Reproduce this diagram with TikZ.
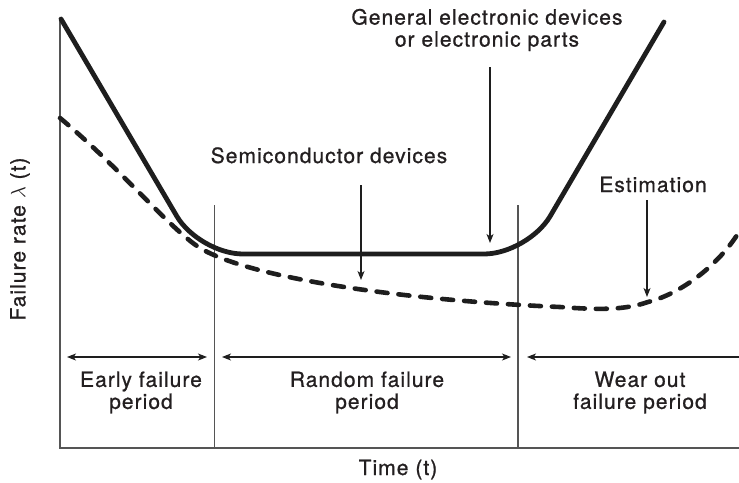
\documentclass[tikz,border=0pt]{standalone}
\usepackage{fontspec}
\usetikzlibrary{arrows.meta}
\newfontfamily\lblfont[LetterSpace=5,FakeBold=0.9]{TeX Gyre Heros}
\definecolor{ink}{HTML}{1E1E1E}
\definecolor{txt}{HTML}{231F20}
\definecolor{axisgray}{HTML}{555555}
\tikzset{
  lbl/.style={font={\lblfont\fontsize{21pt}{22pt}\selectfont}, text=txt, inner sep=0pt, align=center},
  axisline/.style={axisgray, line width=1.2pt},
  divider/.style={axisgray, line width=1.2pt},
  curve/.style={ink, line width=4.8pt, line cap=round, line join=round},
  estcurve/.style={curve, line width=4.6pt, dash pattern=on 11pt off 11pt},
  ptr/.style={ink, line width=1.1pt, -{Stealth[length=9pt,width=7pt,inset=2.5pt]}},
  span/.style={ink, line width=1.1pt, {Stealth[length=9pt,width=7pt,inset=2.5pt]}-{Stealth[length=9pt,width=7pt,inset=2.5pt]}},
  spanleft/.style={ink, line width=1.1pt, {Stealth[length=9pt,width=7pt,inset=2.5pt]}-},
}
\begin{document}
\begin{tikzpicture}[x=1pt, y=-1pt]
\useasboundingbox (0,0) rectangle (739,482);

% axes
\coordinate (origin) at (60,448);
\coordinate (ytop) at (60,19);
\coordinate (xend) at (739,448);
\draw[axisline] (ytop) -- (origin) -- (xend);

% period boundaries
\coordinate (d1top) at (214.5,205);
\coordinate (d1bot) at (214.5,448);
\coordinate (d2top) at (518,205);
\coordinate (d2bot) at (518,448);
\draw[divider] (d1top) -- (d1bot);
\draw[divider] (d2top) -- (d2bot);

% bathtub curve of general electronic parts
\coordinate (s0) at (61,19);
\coordinate (s1) at (199,254);
\coordinate (s2) at (528,254);
\coordinate (s3) at (664,22);
\draw[curve, rounded corners=44pt] (s0) -- (s1) -- (s2) -- (s3);

% semiconductor curve (estimated)
\draw[estcurve] (60,118) .. controls (120,168) and (170,229) .. (200,248)
  .. controls (250,278) and (400,300) .. (560,307)
  .. controls (600,310) and (625,310) .. (648,302)
  .. controls (680,294) and (718,266) .. (739,232);

% labels and pointers
\node[lbl] (gen) at (487,30) {General electronic devices\\or electronic parts};
\coordinate (genTail) at (490,67);
\coordinate (genTip) at (490,243);
\draw[ptr] (genTail) -- (genTip);

\node[lbl, anchor=base] (semi) at (329,163) {Semiconductor devices};
\coordinate (semiTail) at (361,185);
\coordinate (semiTip) at (361,280);
\draw[ptr] (semiTail) -- (semiTip);

\node[lbl, anchor=base] (est) at (653,192) {Estimation};
\coordinate (estTail) at (647,200);
\coordinate (estTip) at (647,297);
\draw[ptr] (estTail) -- (estTip);

% period spans
\coordinate (e0) at (67,357);
\coordinate (e1) at (207,357);
\coordinate (r0) at (222,357);
\coordinate (r1) at (511,357);
\coordinate (w0) at (527,357);
\coordinate (w1) at (739,357);
\draw[span] (e0) -- (e1);
\draw[span] (r0) -- (r1);
\draw[spanleft] (w0) -- (w1);

\node[lbl] (early) at (141,392.5) {Early failure\\period};
\node[lbl] (random) at (367,392.5) {Random failure\\period};
\node[lbl] (wear) at (640,392.5) {Wear out\\failure period};

% axis titles
\node[lbl, anchor=base] (xlab) at (398,475) {Time (t)};
\node[lbl, rotate=90] (ylab) at (20,239) {Failure rate $\lambda$ (t)};
\end{tikzpicture}
\end{document}
